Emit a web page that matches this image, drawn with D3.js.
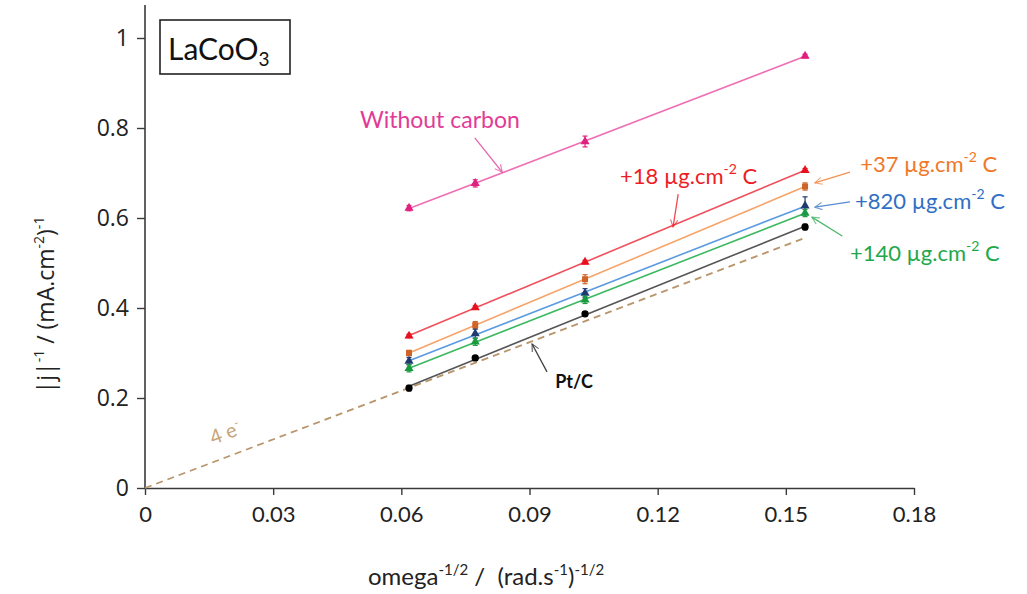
<!DOCTYPE html>
<html>
<head>
<meta charset="utf-8">
<script src="https://cdn.jsdelivr.net/npm/d3@7"></script>
<style>
  html, body { margin: 0; padding: 0; background: #fff; }
  svg { display: block; }
</style>
</head>
<body>
<svg id="chart" width="1027" height="594"></svg>
<script>
// Koutecky-Levich plot data: inverse current density vs omega^-1/2
const omegaInv = [0.0618, 0.0773, 0.1030, 0.1545];

const withoutCarbon = [0.622, 0.677, 0.770, 0.960];
const withoutCarbonErr = [0.006, 0.008, 0.012, 0.004];
const c18 = [0.338, 0.401, 0.502, 0.706];
const c18Err = [0.004, 0.004, 0.004, 0.004];
const c37 = [0.300, 0.362, 0.464, 0.670];
const c37Err = [0.006, 0.008, 0.010, 0.008];
const c820 = [0.282, 0.343, 0.433, 0.627];
const c820Err = [0.008, 0.010, 0.010, 0.020];
const c140 = [0.266, 0.325, 0.418, 0.611];
const c140Err = [0.008, 0.008, 0.008, 0.008];
const ptc = [0.222, 0.289, 0.387, 0.580];
const ptcErr = [0.006, 0.005, 0.005, 0.006];

// theoretical 4-electron line
const fourEx = [0, 0.1545];
const fourEy = [0, 0.556];

const xTicks = [0, 0.03, 0.06, 0.09, 0.12, 0.15, 0.18];
const yTicks = [0, 0.2, 0.4, 0.6, 0.8, 1];

const series = [
  { name: "Without carbon", y: withoutCarbon, err: withoutCarbonErr, line: "#ef6fb4", mark: "#e0207f", shape: "triangle" },
  { name: "+18", y: c18, err: c18Err, line: "#f0505c", mark: "#e8101e", shape: "triangle" },
  { name: "+37", y: c37, err: c37Err, line: "#f7a46a", mark: "#cf6428", shape: "square" },
  { name: "+820", y: c820, err: c820Err, line: "#5a9ae0", mark: "#1f3a70", shape: "triangle" },
  { name: "+140", y: c140, err: c140Err, line: "#3cb860", mark: "#1a9a40", shape: "triangle" },
  { name: "Pt/C", y: ptc, err: ptcErr, line: "#555555", mark: "#000000", shape: "circle" }
];

// annotation labels, positioned in data units
const annotations = [
  { parts: [["Without carbon"]], x: 0.0503, y: 0.800, color: "#e23b97", size: 23, weight: 400,
    arrow: [[0.0772, 0.778], [0.0836, 0.702]] },
  { parts: [["+18 µg.cm"], ["-2", "sup"], [" C"]], x: 0.1112, y: 0.676, color: "#ee1c25", size: 22, weight: 400,
    arrow: [[0.1248, 0.653], [0.1236, 0.580]] },
  { parts: [["+37 µg.cm"], ["-2", "sup"], [" C"]], x: 0.1674, y: 0.702, color: "#f07828", size: 22, weight: 400,
    arrow: [[0.1650, 0.702], [0.1568, 0.678]] },
  { parts: [["+820 µg.cm"], ["-2", "sup"], [" C"]], x: 0.1662, y: 0.620, color: "#2f6fc5", size: 22, weight: 400,
    arrow: [[0.1650, 0.636], [0.1568, 0.624]] },
  { parts: [["+140 µg.cm"], ["-2", "sup"], [" C"]], x: 0.1650, y: 0.504, color: "#22a84a", size: 22, weight: 400,
    arrow: [[0.1632, 0.560], [0.1561, 0.602]] },
  { parts: [["Pt/C"]], x: 0.0960, y: 0.222, color: "#111111", size: 18, weight: 700,
    arrow: [[0.0941, 0.258], [0.0906, 0.320]] }
];

const svg = d3.select("#chart");
const axisColor = "#3a3a3a";

const x = d3.scaleLinear().domain([0, 0.18]).range([145, 914]);
const y = d3.scaleLinear().domain([0, 1]).range([488, 38]);
const yTopPx = 5;

// arrowhead markers
const defs = svg.append("defs");
annotations.forEach((a, i) => {
  defs.append("marker")
    .attr("id", "arr" + i)
    .attr("viewBox", "0 0 10 10")
    .attr("refX", 9).attr("refY", 5)
    .attr("markerWidth", 9).attr("markerHeight", 9)
    .attr("markerUnits", "userSpaceOnUse")
    .attr("orient", "auto")
    .append("path")
    .attr("d", "M1,1 L9,5 L1,9")
    .attr("fill", "none")
    .attr("stroke", a.color)
    .attr("stroke-width", 1.3)
    .attr("opacity", 0.8);
});

// axes
const gx = svg.append("g").attr("transform", `translate(0,${y(0)})`)
  .call(d3.axisBottom(x).tickValues(xTicks).tickSize(7).tickSizeOuter(0).tickFormat(d => d === 0 ? "0" : d3.format(".2f")(d)));
gx.select(".domain").attr("stroke", axisColor).attr("stroke-width", 1.6);
gx.selectAll(".tick line").attr("stroke", axisColor).attr("stroke-width", 1.4);
gx.selectAll(".tick text")
  .attr("font-family", "Lato, 'Open Sans', sans-serif")
  .attr("font-size", 22).attr("fill", "#222").attr("y", 18).attr("dy", "0.71em");

const gy = svg.append("g").attr("transform", `translate(${x(0)},0)`)
  .call(d3.axisLeft(y).tickValues(yTicks).tickSize(8).tickSizeOuter(0).tickFormat(d => d === 0 ? "0" : (d === 1 ? "1" : d3.format(".1f")(d))));
gy.select(".domain").attr("d", `M0,${y(0)}V${yTopPx}`).attr("stroke", axisColor).attr("stroke-width", 1.6);
gy.selectAll(".tick line").attr("stroke", axisColor).attr("stroke-width", 1.4);
gy.selectAll(".tick text")
  .attr("font-family", "'Open Sans', 'DejaVu Sans', sans-serif")
  .attr("font-size", 23).attr("font-weight", 500).attr("fill", "#222").attr("x", -16);

// text with superscript parts
function richText(sel, parts, supSize) {
  let pendingDy = 0;
  parts.forEach(p => {
    const t = sel.append("tspan").text(p[0]);
    if (p[1] === "sup") {
      t.attr("font-size", supSize).attr("dy", pendingDy - supSize * 0.7);
      pendingDy = supSize * 0.7;
    } else {
      if (pendingDy) t.attr("dy", pendingDy);
      pendingDy = 0;
    }
  });
}

const xTitle = svg.append("text")
  .attr("x", 368).attr("y", 585)
  .attr("font-family", "Lato, sans-serif").attr("font-size", 24).attr("fill", "#222")
  .attr("xml:space", "preserve").style("white-space", "pre");
richText(xTitle, [["omega"], ["-1/2", "sup"], [" /  (rad.s"], ["-1", "sup"], [")"], ["-1/2", "sup"]], 15);

const yTitle = svg.append("text")
  .attr("transform", "translate(54,305) rotate(-90)")
  .attr("text-anchor", "middle")
  .attr("font-family", "'Open Sans', sans-serif").attr("font-size", 23).attr("fill", "#222");
richText(yTitle, [["|j|"], ["-1", "sup"], [" / (mA.cm"], ["-2", "sup"], [")"], ["-1", "sup"]], 14);

// 4 e- reference line
const line = d3.line().x(d => x(d[0])).y(d => y(d[1]));
svg.append("path")
  .datum(fourEx.map((v, i) => [v, fourEy[i]]))
  .attr("d", line)
  .attr("fill", "none").attr("stroke", "#b8956a").attr("stroke-width", 1.8)
  .attr("stroke-dasharray", "7,5");

const angle = Math.atan2(y(0) - y(fourEy[1]), x(fourEx[1]) - x(0)) * 180 / Math.PI;
const fe = svg.append("text")
  .attr("transform", `translate(${x(0.0159)},${y(0.0956)}) rotate(${-angle})`)
  .attr("font-family", "Lato, sans-serif").attr("font-size", 20).attr("fill", "#c8a478");
richText(fe, [["4 e"], ["-", "sup"]], 12);

// linear fits and markers
function fit(xs, ys) {
  const mx = d3.mean(xs), my = d3.mean(ys);
  const b = d3.sum(xs, (v, i) => (v - mx) * (ys[i] - my)) / d3.sum(xs, v => (v - mx) ** 2);
  return { b, a: my - b * mx };
}

series.forEach(s => {
  const f = fit(omegaInv, s.y);
  const x0 = omegaInv[0], x1 = omegaInv[omegaInv.length - 1];
  svg.append("path")
    .datum([[x0, f.a + f.b * x0], [x1, f.a + f.b * x1]])
    .attr("d", line)
    .attr("fill", "none").attr("stroke", s.line).attr("stroke-width", 1.6);
});

series.forEach(s => {
  const g = svg.append("g");
  const pts = omegaInv.map((v, i) => ({ x: v, y: s.y[i], e: s.err[i] }));
  g.selectAll("line.err").data(pts).join("line")
    .attr("x1", d => x(d.x)).attr("x2", d => x(d.x))
    .attr("y1", d => y(d.y - d.e)).attr("y2", d => y(d.y + d.e))
    .attr("stroke", s.mark).attr("stroke-width", 1.2);
  g.selectAll("line.capT").data(pts).join("line")
    .attr("x1", d => x(d.x) - 2.5).attr("x2", d => x(d.x) + 2.5)
    .attr("y1", d => y(d.y + d.e)).attr("y2", d => y(d.y + d.e))
    .attr("stroke", s.mark).attr("stroke-width", 1.2);
  g.selectAll("line.capB").data(pts).join("line")
    .attr("x1", d => x(d.x) - 2.5).attr("x2", d => x(d.x) + 2.5)
    .attr("y1", d => y(d.y - d.e)).attr("y2", d => y(d.y - d.e))
    .attr("stroke", s.mark).attr("stroke-width", 1.2);
  const sym = s.shape === "triangle" ? d3.symbolTriangle : (s.shape === "square" ? d3.symbolSquare : d3.symbolCircle);
  const size = s.shape === "circle" ? 42 : 36;
  g.selectAll("path.pt").data(pts).join("path")
    .attr("transform", d => `translate(${x(d.x)},${y(d.y)})`)
    .attr("d", d3.symbol().type(sym).size(size))
    .attr("fill", s.mark);
});

// annotations
annotations.forEach((a, i) => {
  svg.append("line")
    .attr("x1", x(a.arrow[0][0])).attr("y1", y(a.arrow[0][1]))
    .attr("x2", x(a.arrow[1][0])).attr("y2", y(a.arrow[1][1]))
    .attr("stroke", a.color).attr("stroke-width", 1.3).attr("opacity", 0.8)
    .attr("marker-end", `url(#arr${i})`);
  const t = svg.append("text")
    .attr("x", x(a.x)).attr("y", y(a.y))
    .attr("font-family", "Lato, sans-serif")
    .attr("font-size", a.size).attr("font-weight", a.weight).attr("fill", a.color);
  richText(t, a.parts, 14);
});

// material label box
svg.append("rect")
  .attr("x", 160).attr("y", 20).attr("width", 130).attr("height", 54)
  .attr("fill", "#fff").attr("stroke", "#222").attr("stroke-width", 1.6);
const title = svg.append("text")
  .attr("x", 168).attr("y", 60)
  .attr("font-family", "Lato, sans-serif").attr("font-size", 30).attr("fill", "#111");
title.append("tspan").text("LaCoO");
title.append("tspan").attr("font-size", 19).attr("dy", 6).text("3");
</script>
</body>
</html>
